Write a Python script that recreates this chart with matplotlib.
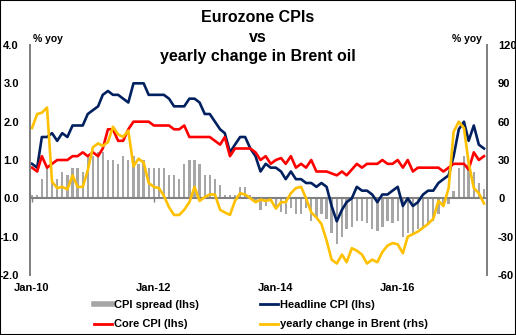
import numpy as np
import pandas as pd
import matplotlib
matplotlib.use('Agg')
import matplotlib.pyplot as plt
import matplotlib.dates as mdates
from matplotlib.lines import Line2D

plt.rcParams['font.family'] = ['Liberation Sans', 'DejaVu Sans']
plt.rcParams['font.weight'] = 'bold'

# Monthly data, Jan-2010 .. Jun-2017
months = pd.date_range('2010-01-01', periods=90, freq='MS')

headline_cpi = [
    0.9, 0.8, 1.6, 1.6, 1.7, 1.5, 1.7, 1.6, 1.9, 1.9, 1.9, 2.2,
    2.3, 2.4, 2.7, 2.8, 2.7, 2.7, 2.6, 2.5, 3.0, 3.0, 3.0, 2.7,
    2.7, 2.7, 2.7, 2.6, 2.4, 2.4, 2.4, 2.6, 2.6, 2.5, 2.2, 2.2,
    2.0, 1.8, 1.7, 1.2, 1.4, 1.6, 1.6, 1.3, 1.1, 0.7, 0.9, 0.8,
    0.8, 0.7, 0.5, 0.7, 0.5, 0.5, 0.4, 0.4, 0.3, 0.4, 0.3, -0.2,
    -0.6, -0.3, -0.1, 0.0, 0.3, 0.2, 0.2, 0.1, -0.1, 0.1, 0.1, 0.2,
    0.3, -0.2, 0.0, -0.2, -0.1, 0.1, 0.2, 0.2, 0.4, 0.5, 0.6, 1.1,
    1.8, 2.0, 1.5, 1.9, 1.4, 1.3,
]

core_cpi = [
    0.8, 0.7, 1.1, 0.8, 0.9, 1.0, 1.0, 1.0, 1.1, 1.1, 1.2, 1.1,
    1.2, 1.1, 1.3, 1.8, 1.8, 1.5, 1.5, 1.8, 2.0, 2.0, 2.0, 2.0,
    1.9, 1.9, 1.9, 1.9, 1.8, 1.8, 1.9, 1.6, 1.6, 1.6, 1.6, 1.6,
    1.5, 1.4, 1.6, 1.1, 1.3, 1.3, 1.3, 1.3, 1.2, 1.0, 1.1, 0.9,
    1.0, 1.05, 0.9, 1.1, 0.8, 0.9, 0.8, 1.0, 0.7, 0.7, 0.7, 0.65,
    0.6, 0.7, 0.6, 0.75, 0.9, 0.8, 0.9, 0.9, 0.9, 1.0, 0.9, 0.9,
    1.0, 0.8, 1.0, 0.7, 0.8, 0.8, 0.8, 0.8, 0.8, 0.7, 0.8, 0.9,
    0.9, 0.9, 0.75, 1.2, 1.0, 1.1,
]

cpi_spread = [
    0.1, 0.1, 0.5, 0.8, 0.4, 0.5, 0.7, 0.6, 0.8, 0.8, 0.7, 1.1,
    1.1, 1.2, 1.2, 1.0, 1.0, 0.9, 1.1, 1.0, 1.1, 0.9, 1.0, 0.8,
    0.8, 0.8, 0.8, 0.6, 0.6, 0.5, 0.9, 1.0, 1.0, 0.9, 0.6, 0.6,
    0.5, 0.35, 0.1, 0.1, 0.1, 0.3, 0.3, 0.1, -0.1, -0.3, -0.2, -0.1,
    -0.2, -0.35, -0.4, -0.25, -0.4, -0.4, -0.25, -0.6, -0.5, -0.4, -0.55, -0.9,
    -1.2, -1.0, -0.8, -0.75, -0.6, -0.6, -0.65, -0.8, -0.85, -0.75, -0.6, -0.65,
    -0.6, -1.0, -0.9, -0.9, -0.8, -0.75, -0.65, -0.6, -0.4, -0.2, -0.15, 0.2,
    0.8, 1.1, 0.9, 0.7, 0.4, 0.25,
]

brent_yoy = [
    55, 66, 67, 71, 13, 8, 9, 7, 18, 9, 9, 22,
    40, 43, 41, 44, 56, 50, 48, 53, 25, 31, 28, 12,
    9, 8, 2, -7, -13, -13, -9, -3, 9, -2, 1, 3,
    3, -9, -11, -13, -2, 4, 3, 0, -3, -1, -2, -1,
    -8, -3, -3, 4, 8, 9, 0, -11, -15, -20, -33, -48,
    -51, -44, -50, -39, -41, -44, -51, -48, -50, -42, -37, -35,
    -36, -43, -30, -28, -26, -23, -20, -16, -2, -6, 8, 52,
    60, 55, 28, 8, 4, -4,
]

lhs_ticks = [-2.0, -1.0, 0.0, 1.0, 2.0, 3.0, 4.0]
rhs_ticks = [-60, -30, 0, 30, 60, 90, 120]

navy = '#002060'
red = '#FF0000'
gold = '#FFC000'
bar_grey = '#A6A6A6'
axis_grey = '#808080'

fig = plt.figure(figsize=(5.16, 3.35), dpi=100)
ax = fig.add_axes([30 / 516, 60 / 335, 457 / 516, 230 / 335])
ax2 = ax.twinx()

ax.bar(months, cpi_spread, width=14, color=bar_grey, zorder=1)
ax.axhline(0, color=axis_grey, lw=1.5, zorder=2)
ax.plot(months, headline_cpi, color=navy, lw=1.9, zorder=3)
ax.plot(months, core_cpi, color=red, lw=1.9, zorder=4)
ax2.plot(months, brent_yoy, color=gold, lw=1.9)

ax.set_ylim(-2, 4)
ax.set_yticks(lhs_ticks)
ax.set_yticklabels([f'{t:.1f}' for t in lhs_ticks])
ax2.set_ylim(-60, 120)
ax2.set_yticks(rhs_ticks)
ax2.set_yticklabels([str(t) for t in rhs_ticks])

ax.set_xlim(months[0] - pd.Timedelta(days=12), months[-1] + pd.Timedelta(days=18))
ax.xaxis.set_major_locator(mdates.YearLocator(2))
ax.xaxis.set_major_formatter(mdates.DateFormatter('%b-%y'))

for a in (ax, ax2):
    a.patch.set_visible(False)
    a.spines['top'].set_visible(False)
    a.spines['bottom'].set_visible(False)
    a.spines['left'].set_color(axis_grey)
    a.spines['right'].set_color(axis_grey)
    a.spines['left'].set_linewidth(1.3)
    a.spines['right'].set_linewidth(1.3)
    a.tick_params(axis='both', length=0, labelsize=8, colors='black')
ax.tick_params(axis='y', pad=8)
ax2.tick_params(axis='y', pad=8)
ax.tick_params(axis='x', pad=6)

# small tick marks sitting on the zero line
zero_axis = ax.secondary_xaxis(1 / 3)
zero_axis.xaxis.set_major_locator(mdates.YearLocator(2))
zero_axis.spines['bottom'].set_visible(False)
zero_axis.tick_params(axis='x', length=3, width=1, color=axis_grey,
                      direction='out', labelbottom=False)

fig.text(0.5, 1 - 37 / 335, 'Eurozone CPIs\nvs\nyearly change in Brent oil',
         ha='center', va='center', fontsize=11.5, fontweight='bold',
         linespacing=1.4)
fig.text(33 / 516, 1 - 39 / 335, '% yoy', fontsize=7.5, va='center')
fig.text(482 / 516, 1 - 39 / 335, '% yoy', fontsize=7.5, va='center', ha='right')

handles = [
    Line2D([], [], color=bar_grey, lw=4),
    Line2D([], [], color=red, lw=2),
    Line2D([], [], color=navy, lw=2),
    Line2D([], [], color=gold, lw=2),
]
labels = ['CPI spread (lhs)', 'Core CPI (lhs)', 'Headline CPI (lhs)',
          'yearly change in Brent (rhs)']
fig.legend(handles, labels, ncol=2, loc='upper left',
           bbox_to_anchor=(94 / 516, 1 - 300 / 335), frameon=False,
           fontsize=8, handlelength=1.6, handletextpad=0.2,
           columnspacing=5.5, labelspacing=0.85, borderpad=0, borderaxespad=0)

fig.add_artist(plt.Rectangle((0, 0), 1, 1, transform=fig.transFigure,
                             fill=False, ec='black', lw=1.5))

fig.savefig('out.png', dpi=100)
